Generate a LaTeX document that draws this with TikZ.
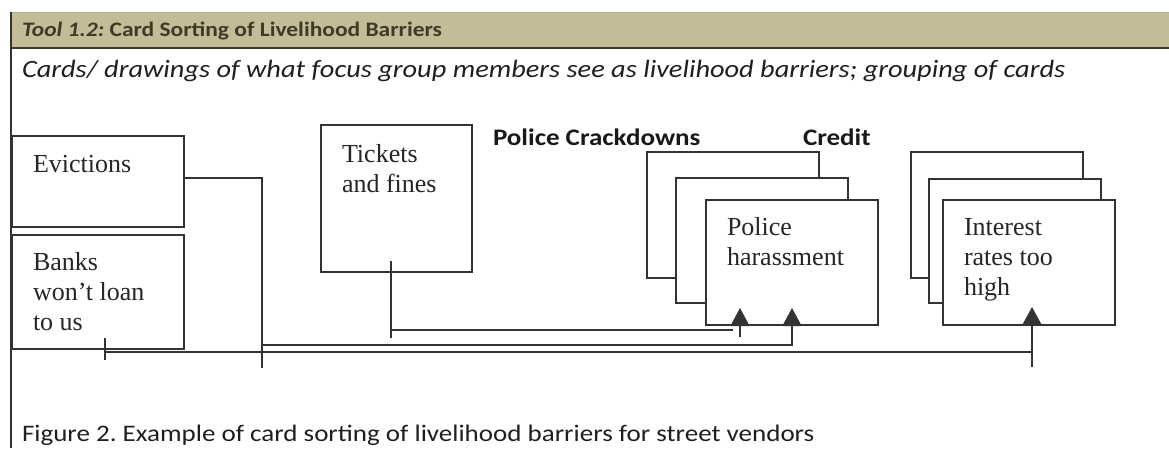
\documentclass[tikz,border=0pt]{standalone}
\usepackage{fontspec}
\setmainfont{Liberation Serif}
\newfontfamily\calibri[FakeStretch=1.14]{Carlito}
\usetikzlibrary{arrows.meta,positioning}
\definecolor{Ink}{HTML}{333333}
\definecolor{Khaki}{HTML}{C4BC96}
\definecolor{Olive}{HTML}{3E3A2A}
\frenchspacing

\begin{document}
\begin{tikzpicture}[x=1pt,y=-1pt, every node/.style={inner sep=0pt,outer sep=0pt},
card/.style={draw=Ink,line width=1.5pt,fill=white,anchor=north west,minimum width=172pt},
cardtext/.style={font=\fontsize{26}{30}\selectfont,align=left,anchor=north west,text=black!85},
tag/.style={font=\calibri\bfseries\fontsize{23.7}{27}\selectfont,anchor=base west,text=black!90},
conn/.style={draw=Ink,line width=1.5pt},
>={Triangle[width=19pt,length=18pt]}]
\useasboundingbox (0,0) rectangle (1169,448);
% frame and heading
\fill[Khaki] (11,13) rectangle (1169,47);
\draw[gray!70,line width=1.5pt] (10,12.5) -- (1169,12.5);
\draw[Olive,line width=2pt] (11,47.5) -- (1169,47.5);
\draw[Ink,line width=2pt] (11,12) -- (11,448);
\node[anchor=base west,font=\calibri\bfseries\fontsize{20.6}{24}\selectfont,text=Olive] (title) at (22,36) {\textit{Tool 1.2:} Card Sorting of Livelihood Barriers};
\node[anchor=base west,font=\calibri\itshape\fontsize{24.9}{28}\selectfont,text=black!88] (subtitle) at (22,77) {Cards/ drawings of what focus group members see as livelihood barriers; grouping of cards};
% single cards
\node[card,minimum height=91pt] (evict) at (12,136) {};
\node[card,minimum height=114pt] (banks) at (12,235) {};
\node[card,minimum width=151pt,minimum height=147pt] (tickets) at (321,125) {};
\node[cardtext] (evicttxt) at ([shift={(21pt,-15pt)}]evict.north west) {\strut Evictions};
\node[cardtext] (bankstxt) at ([shift={(21pt,-14pt)}]banks.north west) {\strut Banks\\won’t loan\\to us};
\node[cardtext] (ticketstxt) at ([shift={(21pt,-16pt)}]tickets.north west) {\strut Tickets\\and fines};
% police stack
\node[tag] (police) at (493,145) {Police Crackdowns};
\node[card,minimum height=126pt] (pback) at (647,152) {};
\node[card,minimum height=125pt,below right=26pt and 29pt of pback.north west] (pmid) {};
\node[card,minimum height=125pt,below right=22pt and 30pt of pmid.north west] (pfront) {};
\node[cardtext] (pfronttxt) at ([shift={(21pt,-14pt)}]pfront.north west) {\strut Police\\harassment};
% credit stack
\node[tag] (credit) at (803,145) {Credit};
\node[card,minimum height=126pt] (cback) at (911,152) {};
\node[card,minimum height=124pt,below right=27pt and 18pt of cback.north west] (cmid) {};
\node[card,minimum height=125pt,below right=21pt and 14pt of cmid.north west] (cfront) {};
\node[cardtext] (cfronttxt) at ([shift={(21pt,-14pt)}]cfront.north west) {\strut Interest\\rates too\\high};
% sorting lines
\coordinate (evbend) at (262,368);
\coordinate (evjoin) at (262,345);
\coordinate (tkjoin) at (391,330);
\coordinate (bkjoin) at (105,352);
\coordinate (ptipA) at (740,308);
\coordinate (ptipB) at (792,308);
\coordinate (ctip) at (1032,307);
\draw[conn] ([yshift=3.5pt]evict.east) -| (evbend);
\draw[conn,->] (evjoin) -| (ptipB);
\draw[conn] ([xshift=-5.5pt,yshift=11pt]tickets.south) -- ++(0,77);
\draw[conn] (tkjoin) -- (733,330);
\draw[conn,->] (740,337) -- (ptipA);
\draw[conn] ([xshift=7pt,yshift=11pt]banks.south) -- ++(0,22);
\draw[conn,line width=2.5pt,->] (bkjoin) -| (ctip);
\draw[conn,line width=2.5pt] (1032,367) -- (1032,352);
% caption
\node[anchor=base west,font=\calibri\fontsize{23.7}{27}\selectfont,text=black!88] (caption) at (22,441) {Figure 2. Example of card sorting of livelihood barriers for street vendors};
\end{tikzpicture}
\end{document}
